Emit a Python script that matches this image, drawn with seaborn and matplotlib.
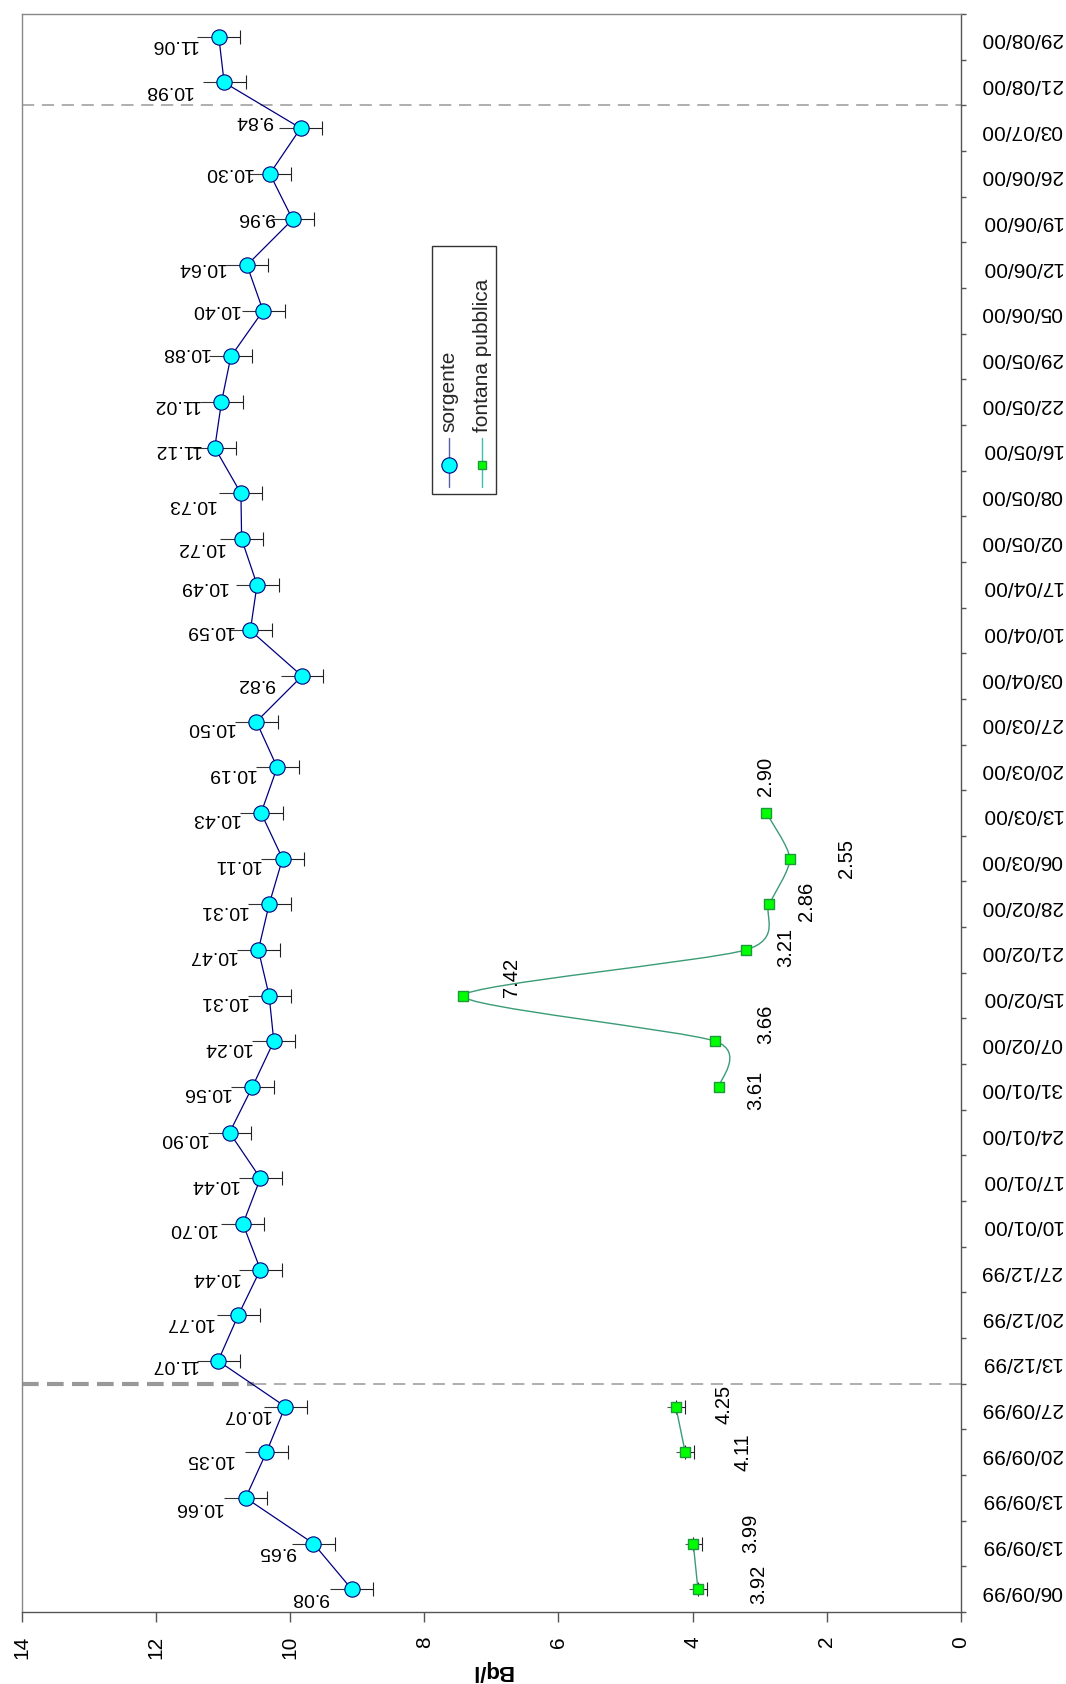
import numpy as np
import matplotlib
matplotlib.use("Agg")
import matplotlib.pyplot as plt
from matplotlib.path import Path
from matplotlib.patches import PathPatch, Rectangle
from matplotlib.lines import Line2D
from matplotlib.ticker import FixedLocator
import seaborn as sns

# ---- data -------------------------------------------------------------
dates = ["06/09/99", "13/09/99", "13/09/99", "20/09/99", "27/09/99",
         "13/12/99", "20/12/99", "27/12/99", "10/01/00", "17/01/00",
         "24/01/00", "31/01/00", "07/02/00", "15/02/00", "21/02/00",
         "28/02/00", "06/03/00", "13/03/00", "20/03/00", "27/03/00",
         "03/04/00", "10/04/00", "17/04/00", "02/05/00", "08/05/00",
         "16/05/00", "22/05/00", "29/05/00", "05/06/00", "12/06/00",
         "19/06/00", "26/06/00", "03/07/00", "21/08/00", "29/08/00"]

sorgente = [9.08, 9.65, 10.66, 10.35, 10.07, 11.07, 10.77, 10.44, 10.70,
            10.44, 10.90, 10.56, 10.24, 10.31, 10.47, 10.31, 10.11, 10.43,
            10.19, 10.50, 9.82, 10.59, 10.49, 10.72, 10.73, 11.12, 11.02,
            10.88, 10.40, 10.64, 9.96, 10.30, 9.84, 10.98, 11.06]
sorgente_err = [0.32] * 35

nan = np.nan
fontana = [3.92, 3.99, nan, 4.11, 4.25, nan, nan, nan, nan, nan, nan,
           3.61, 3.66, 7.42, 3.21, 2.86, 2.55, 2.90] + [nan] * 17
fontana_err = [0.13, 0.13, nan, 0.13, 0.13] + [nan] * 30

# label placement (pixels): sorgente -> (gap of right edge, vertical shift)
sorg_lab_off = [(-23, 8), (-17, 7.5), (-23, 10), (-33, 7), (-15, 8),
                (-21, 4), (-25, 7.5), (-21, 8), (-26, 5)] + \
               [(-22, 6)] * 11 + \
               [(-27, 7), (-17, 0), (-30, 2), (-17, 8), (-25, 11), (-14, 2),
                (-22, 2), (-21, -4), (-24, -1), (-21, 2), (-17, -2), (-17, -1),
                (-28, -8), (-32, 8), (-21, 7.5)]
# fontana -> (horizontal shift of centre, vertical shift)
font_lab_off = {0: (61, -5), 1: (57, -10), 3: (58, 0), 4: (48, -2),
                11: (37, 3), 12: (50, -17), 13: (48, -18), 14: (40, -3),
                15: (37, -3), 16: (57, 0), 17: (-1, -37)}

# ---- style ------------------------------------------------------------
sns.set_theme(style="white")
plt.rcParams["font.family"] = ["Liberation Sans", "DejaVu Sans"]

DPI = 100
W, H = 1066, 1684
fig = plt.figure(figsize=(W / DPI, H / DPI), dpi=DPI)
px = 72.0 / DPI  # points per pixel

ax_l, ax_r, ax_t, ax_b = 21.5, 961, 14, 1612
ax = fig.add_axes([ax_l / W, 1 - ax_b / H, (ax_r - ax_l) / W, (ax_b - ax_t) / H])

pos = np.arange(len(dates))
sorg = np.array(sorgente)
font = np.array(fontana)

NAVY = "#000080"
CYAN = "#00FFFF"
GREEN = "#00FF00"
GREEN_EDGE = "#1E9A3C"
GREEN_LINE = "#3A9C76"

# separators between measurement campaigns
ax.plot([10.54, 0], [4.5, 4.5], color="#999999", lw=1.1, ls=(0, (8, 5)), zorder=1)
ax.plot([14, 10.54], [4.5, 4.5], color="#999999", lw=3.0, ls=(0, (4, 2)), zorder=1)
ax.axhline(32.5, color="#999999", lw=1.1, ls=(0, (8, 5)), zorder=1)

# sorgente: error bars (cap on the low side only), line and markers
ax.errorbar(sorg, pos, xerr=[sorgente_err, np.zeros(35)], fmt="none",
            ecolor="#222222", elinewidth=0.8, capsize=4.7, capthick=0.8, zorder=3)
ax.hlines(pos, sorg, sorg + np.array(sorgente_err), color="#333333", lw=0.8, zorder=3)
sns.lineplot(x=sorg, y=pos, orient="y", sort=False, estimator=None, ax=ax,
             color=NAVY, linewidth=0.9, marker="o", markersize=11,
             markerfacecolor=CYAN, markeredgecolor=NAVY, markeredgewidth=0.8,
             zorder=4, legend=False)

# fontana pubblica: smoothed line through each contiguous run
fe = np.array(fontana_err)
ok = ~np.isnan(fe)
ax.errorbar(font[ok], pos[ok], xerr=[fe[ok], np.zeros(ok.sum())], fmt="none",
            ecolor="#222222", elinewidth=0.8, capsize=4.7, capthick=0.8, zorder=3)
ax.hlines(pos[ok], font[ok], font[ok] + fe[ok], color="#555555", lw=0.8, zorder=3)


def smooth_run(xs, ys, k=0.12):
    P = np.column_stack([xs, ys])
    n = len(P)
    verts = [P[0]]
    codes = [Path.MOVETO]
    for i in range(n - 1):
        pm = P[i - 1] if i > 0 else P[i]
        pp = P[i + 2] if i + 2 < n else P[i + 1]
        c1 = P[i] + (P[i + 1] - pm) * k
        c2 = P[i + 1] - (pp - P[i]) * k
        verts += [c1, c2, P[i + 1]]
        codes += [Path.CURVE4] * 3
    return Path(verts, codes)


valid = ~np.isnan(font)
start = None
for i in range(len(font) + 1):
    v = i < len(font) and valid[i]
    if v and start is None:
        start = i
    elif not v and start is not None:
        if i - start > 1:
            path = smooth_run(font[start:i], pos[start:i])
            ax.add_patch(PathPatch(path, facecolor="none", edgecolor=GREEN_LINE,
                                   lw=1.0, zorder=4))
        start = None

sns.scatterplot(x=font[valid], y=pos[valid], ax=ax, marker="s", s=42,
                color=GREEN, edgecolor=GREEN_EDGE, linewidth=1.0, zorder=5,
                legend=False)

# value labels
for i, v in enumerate(sorgente):
    dx, dy = sorg_lab_off[i]
    ax.annotate(f"{v:.2f}", xy=(v, i), xytext=(dx * px, -dy * px),
                textcoords="offset points", rotation=180, ha="right",
                va="center", fontsize=14, color="black", zorder=6)
for i, (dx, dy) in font_lab_off.items():
    v = fontana[i]
    ax.annotate(f"{v:.2f}", xy=(v, i), xytext=(dx * px, -dy * px),
                textcoords="offset points", rotation=90, ha="center",
                va="center", fontsize=14.5, color="black", zorder=6)

# axes
ax.set_xlim(14, 0)
ax.set_ylim(-0.5, len(dates) - 0.5)
ax.set_xticks(np.arange(0, 15, 2))
ax.set_xticklabels([str(t) for t in range(0, 15, 2)])
ax.set_yticks(pos)
ax.set_yticklabels(dates)
ax.yaxis.set_minor_locator(FixedLocator(np.arange(-0.5, len(dates), 1.0)))
ax.yaxis.tick_right()
ax.tick_params(axis="x", which="major", bottom=True, direction="out",
               length=10 * px, width=1, color="#555555", pad=10,
               labelrotation=90, labelsize=15, labelcolor="black")
ax.tick_params(axis="y", which="major", length=0, pad=14, labelrotation=180,
               labelsize=15, labelcolor="black", right=True, left=False)
ax.tick_params(axis="y", which="minor", right=True, left=False, direction="out",
               length=5 * px, width=1, color="#555555")
for side in ("left", "top"):
    ax.spines[side].set_color("#888888")
    ax.spines[side].set_linewidth(1.0)
for side in ("bottom", "right"):
    ax.spines[side].set_color("#555555")
    ax.spines[side].set_linewidth(1.0)
ax.grid(False)
ax.set_xlabel("")
ax.set_ylabel("")

fig.text(492 / W, 1 - 1670 / H, "Bq/l", rotation=180, ha="center", va="center",
         fontsize=16, fontweight="bold", color="black")

# legend box drawn in axes fractions
tr = ax.transAxes
def fx(p):
    return (p - ax_l) / (ax_r - ax_l)
def fy(p):
    return (ax_b - p) / (ax_b - ax_t)

ax.add_patch(Rectangle((fx(432.3), fy(494)), fx(495.7) - fx(432.3), fy(245.7) - fy(494),
                       transform=tr, facecolor="white", edgecolor="#333333",
                       lw=1.0, zorder=7))
ax.add_line(Line2D([fx(449)] * 2, [fy(486.7), fy(438)], transform=tr, color="#5560A8",
                   lw=1.0, zorder=8))
ax.add_line(Line2D([fx(449)], [fy(465)], transform=tr, marker="o", markersize=11,
                   markerfacecolor=CYAN, markeredgecolor=NAVY, markeredgewidth=0.8,
                   lw=0, zorder=9))
ax.add_line(Line2D([fx(482)] * 2, [fy(486.7), fy(438)], transform=tr, color="#3CC0B0",
                   lw=1.0, zorder=8))
ax.add_line(Line2D([fx(482)], [fy(465)], transform=tr, marker="s", markersize=6,
                   markerfacecolor=GREEN, markeredgecolor=GREEN_EDGE, markeredgewidth=1.0,
                   lw=0, zorder=9))
ax.text(fx(448.5), fy(431.7), "sorgente", transform=tr, rotation=90, ha="center",
        va="bottom", fontsize=15, zorder=9)
ax.text(fx(482), fy(431.7), "fontana pubblica", transform=tr, rotation=90, ha="center",
        va="bottom", fontsize=15, zorder=9)

fig.savefig("out.png", dpi=DPI, facecolor="white")
